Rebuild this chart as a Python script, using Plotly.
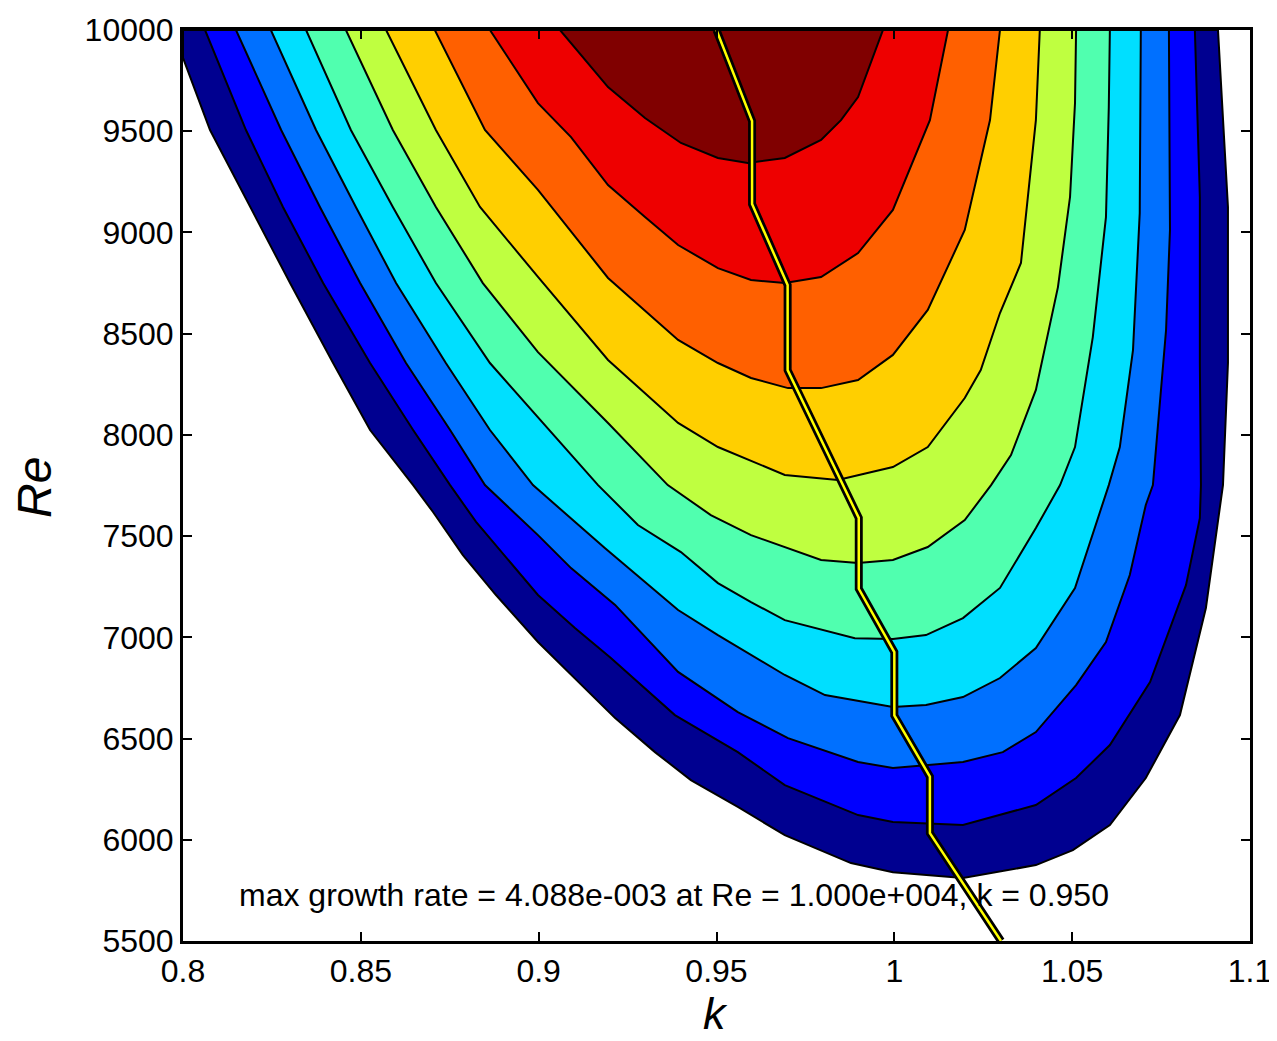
import plotly.graph_objects as go

# ---- contour boundaries (k, Re), outermost level first ----
level0_k = [0.800, 0.800, 0.8076, 0.8188, 0.8301, 0.8422, 0.8526, 0.8647, 0.8703, 0.8787, 0.8880, 0.8998,
            0.9102, 0.9215, 0.9327, 0.9428, 0.9560, 0.9692, 0.9878, 0.9996, 1.0193, 1.0398, 1.0502, 1.0606,
            1.0707, 1.0803, 1.0876, 1.0924, 1.0938, 1.0938, 1.0910]
level0_re = [10000, 9862, 9506, 9126, 8750, 8355, 8024, 7752, 7619, 7406, 7209, 6977, 6799, 6601, 6433, 6295,
             6162, 6023, 5885, 5840, 5811, 5875, 5949, 6073, 6305, 6616, 7145, 7752, 8355, 9126, 10000]

level1_k = [0.8062, 0.8177, 0.8281, 0.8394, 0.8526, 0.8647, 0.8751, 0.8824, 0.8998, 0.9102, 0.9203, 0.9383,
            0.9560, 0.9692, 0.9898, 0.9996, 1.0193, 1.0398, 1.0511, 1.0606, 1.0719, 1.0820, 1.0859, 1.0862,
            1.0859, 1.0859, 1.0845]
level1_re = [10000, 9506, 9126, 8750, 8355, 8024, 7752, 7570, 7209, 7046, 6898, 6616, 6433, 6270, 6122, 6088,
             6073, 6172, 6305, 6468, 6779, 7258, 7589, 7752, 8355, 9175, 10000]

level2_k = [0.8149, 0.8276, 0.8385, 0.8498, 0.8627, 0.8751, 0.8849, 0.8947, 0.8998, 0.9091, 0.9215, 0.9392,
            0.9560, 0.9701, 0.9898, 0.9996, 1.0193, 1.0305, 1.0398, 1.0511, 1.0595, 1.0662, 1.0707, 1.0727,
            1.0764, 1.0775, 1.0772]
level2_re = [10000, 9506, 9126, 8750, 8355, 8024, 7752, 7589, 7505, 7342, 7160, 6829, 6631, 6502, 6384, 6354,
             6384, 6433, 6532, 6764, 6977, 7308, 7654, 7752, 8518, 9012, 10000]

level3_k = [0.8247, 0.8374, 0.8486, 0.8599, 0.8739, 0.8863, 0.8984, 0.9186, 0.9392, 0.9504, 0.9692, 0.9805,
            0.9996, 1.0089, 1.0193, 1.0297, 1.0398, 1.0508, 1.0603, 1.0634, 1.0671, 1.0690, 1.0693]
level3_re = [10000, 9506, 9126, 8750, 8355, 8024, 7752, 7441, 7135, 7011, 6814, 6715, 6656, 6666, 6705, 6799,
             6947, 7244, 7752, 7940, 8419, 9096, 10000]

level4_k = [0.8346, 0.8472, 0.8590, 0.8711, 0.8863, 0.8998, 0.9167, 0.9279, 0.9400, 0.9504, 0.9597, 0.9692,
            0.9889, 0.9996, 1.0089, 1.0193, 1.0297, 1.0398, 1.0466, 1.0508, 1.0558, 1.0595, 1.0603, 1.0606]
level4_re = [10000, 9506, 9126, 8750, 8355, 8088, 7752, 7555, 7421, 7268, 7174, 7085, 6996, 6992, 7011, 7095,
             7244, 7540, 7752, 7940, 8483, 9076, 9620, 10000]

level5_k = [0.8458, 0.8590, 0.8711, 0.8843, 0.8998, 0.9195, 0.9363, 0.9484, 0.9597, 0.9794, 0.9898, 0.9996,
            1.0094, 1.0198, 1.0272, 1.0328, 1.0398, 1.0460, 1.0494, 1.0508, 1.0511]
level5_re = [10000, 9506, 9126, 8750, 8409, 8059, 7752, 7604, 7505, 7382, 7367, 7382, 7446, 7579, 7752, 7900,
             8222, 8730, 9175, 9639, 10000]

level6_k = [0.8571, 0.8711, 0.8835, 0.8998, 0.9195, 0.9392, 0.9504, 0.9692, 0.9841, 0.9996, 1.0094, 1.0198,
            1.0243, 1.0297, 1.0356, 1.0398, 1.0409]
level6_re = [10000, 9506, 9126, 8780, 8370, 8059, 7940, 7802, 7777, 7841, 7940, 8182, 8320, 8602, 8849, 9555,
             10000]

level7_k = [0.8708, 0.8849, 0.8998, 0.9195, 0.9392, 0.9504, 0.9597, 0.9701, 0.9794, 0.9898, 0.9996, 1.0094,
            1.0198, 1.0269, 1.0297]
level7_re = [10000, 9506, 9210, 8775, 8469, 8355, 8281, 8231, 8231, 8271, 8395, 8617, 9012, 9555, 10000]

level8_k = [0.8863, 0.8998, 0.9091, 0.9195, 0.9299, 0.9392, 0.9504, 0.9597, 0.9692, 0.9794, 0.9898, 0.9996,
            1.0100, 1.0151]
level8_re = [10000, 9639, 9471, 9234, 9076, 8938, 8824, 8765, 8750, 8780, 8898, 9111, 9555, 10000]

level9_k = [0.9060, 0.9195, 0.9299, 0.9400, 0.9504, 0.9588, 0.9692, 0.9794, 0.9850, 0.9898, 0.9968]
level9_re = [10000, 9718, 9565, 9442, 9368, 9343, 9368, 9457, 9555, 9669, 10000]

level_colors = ["#000090", "#0000FF", "#0070FF", "#00DFFF", "#50FFAF",
                "#BFFF40", "#FFCF00", "#FF6000", "#EE0000", "#800000"]

# ---- ridge of maximum growth rate ----
ridge_k = [0.95, 0.96, 0.96, 0.97, 0.97, 0.99, 0.99, 1.00, 1.00, 1.01, 1.01, 1.03]
ridge_re = [10000, 9550, 9140, 8740, 8320, 7590, 7240, 6927, 6614, 6312, 6033, 5500]

x_ticks = [0.8, 0.85, 0.9, 0.95, 1.0, 1.05, 1.1]
x_tick_labels = ["0.8", "0.85", "0.9", "0.95", "1", "1.05", "1.1"]
y_ticks = [5500, 6000, 6500, 7000, 7500, 8000, 8500, 9000, 9500, 10000]
y_tick_labels = [str(v) for v in y_ticks]

note_text = "max growth rate = 4.088e-003 at Re = 1.000e+004, k = 0.950"

levels = [(level0_k, level0_re), (level1_k, level1_re), (level2_k, level2_re), (level3_k, level3_re),
          (level4_k, level4_re), (level5_k, level5_re), (level6_k, level6_re), (level7_k, level7_re),
          (level8_k, level8_re), (level9_k, level9_re)]

fig = go.Figure()
for (kk, rr), col in zip(levels, level_colors):
    fig.add_trace(go.Scatter(x=kk + [kk[0]], y=rr + [rr[0]], mode="lines", fill="toself",
                             fillcolor=col, line=dict(color="black", width=2),
                             hoverinfo="skip", showlegend=False))

fig.add_trace(go.Scatter(x=ridge_k, y=ridge_re, mode="lines",
                         line=dict(color="black", width=8), showlegend=False, hoverinfo="skip"))
fig.add_trace(go.Scatter(x=ridge_k, y=ridge_re, mode="lines",
                         line=dict(color="#FFFF00", width=2.5), showlegend=False, hoverinfo="skip"))

font_family = "Liberation Sans, Arial, Helvetica, sans-serif"

fig.add_annotation(x=0.8152, y=5727, xref="x", yref="y", text=note_text, showarrow=False,
                   xanchor="left", yanchor="middle",
                   font=dict(family=font_family, size=32, color="black"))
fig.add_annotation(x=0.4986, y=-0.1095, xref="paper", yref="paper", text="<i>k</i>", showarrow=False,
                   xanchor="center", yanchor="bottom",
                   font=dict(family=font_family, size=45, color="black"))
fig.add_annotation(x=-0.139, y=0.498, xref="paper", yref="paper", text="<i>Re</i>", showarrow=False,
                   xanchor="center", yanchor="middle", textangle=-90,
                   font=dict(family=font_family, size=48, color="black"))

axis_common = dict(showgrid=False, zeroline=False, showline=True, linecolor="black", linewidth=3,
                   mirror="ticks", ticks="inside", ticklen=9, tickwidth=2, tickcolor="black",
                   automargin=False, ticklabeloverflow="allow",
                   tickfont=dict(family=font_family, size=32, color="black"))

fig.update_xaxes(range=[0.8, 1.1], tickmode="array", tickvals=x_ticks, ticktext=x_tick_labels,
                 **axis_common)
fig.update_yaxes(range=[5500, 10000], tickmode="array", tickvals=y_ticks, ticktext=y_tick_labels,
                 **axis_common)

fig.update_layout(width=1269, height=1033, plot_bgcolor="white", paper_bgcolor="white",
                  margin=dict(l=175, r=27, t=22, b=100), showlegend=False)

fig.write_html("out.html")
